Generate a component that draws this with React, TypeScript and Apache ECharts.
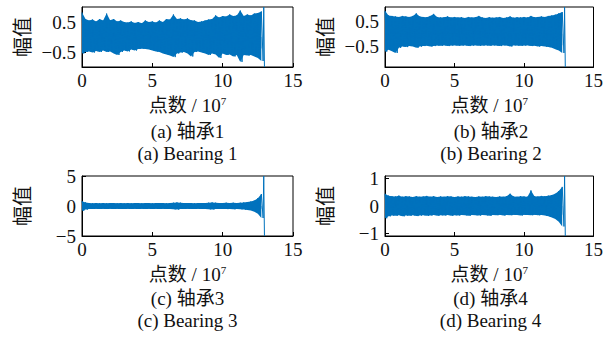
import React, { useEffect, useRef } from "react";
import * as echarts from "echarts";

// x axis: point count / 10^7
const X_MIN = 0;
const X_MAX = 15;
const X_INTERVAL = 5;
const SAMPLE_STEP = 0.25; // envelope samples read every 0.25 ×10^7 points
const END_X = [12.92, 12.97]; // where each record ends with its final burst

// Envelope (upper / lower amplitude per sample)
const TOP_A = [0.82, 0.6, 0.55, 0.58, 0.52, 0.6, 0.55, 0.78, 0.56, 0.6, 0.52, 0.55, 0.5, 0.48, 0.52, 0.47, 0.5, 0.46, 0.55, 0.5, 0.52, 0.48, 0.55, 0.5, 0.6, 0.58, 0.75, 0.6, 0.62, 0.58, 0.62, 0.56, 0.55, 0.5, 0.52, 0.55, 0.58, 0.6, 0.72, 0.65, 0.7, 0.68, 0.75, 0.7, 0.72, 0.88, 0.7, 0.75, 0.72, 0.78, 0.8, 0.85];
const BOT_A = [-0.55, -0.5, -0.48, -0.52, -0.47, -0.5, -0.45, -0.5, -0.48, -0.55, -0.6, -0.5, -0.45, -0.48, -0.42, -0.45, -0.4, -0.38, -0.4, -0.42, -0.45, -0.48, -0.5, -0.55, -0.58, -0.62, -0.67, -0.55, -0.52, -0.5, -0.55, -0.65, -0.5, -0.48, -0.52, -0.55, -0.6, -0.55, -0.58, -0.7, -0.55, -0.6, -0.58, -0.65, -0.6, -0.83, -0.6, -0.62, -0.6, -0.65, -0.7, -0.8];
const END_A = [1, -1];

const TOP_B = [0.9, 0.72, 0.7, 0.68, 0.66, 0.7, 0.68, 0.66, 0.7, 0.8, 0.68, 0.66, 0.65, 0.7, 0.78, 0.66, 0.64, 0.65, 0.68, 0.64, 0.66, 0.64, 0.65, 0.62, 0.66, 0.64, 0.65, 0.7, 0.64, 0.62, 0.65, 0.63, 0.64, 0.66, 0.62, 0.64, 0.68, 0.63, 0.65, 0.64, 0.66, 0.64, 0.7, 0.65, 0.66, 0.68, 0.66, 0.7, 0.72, 0.75, 0.8, 0.85];
const BOT_B = [-0.7, -0.62, -0.68, -0.75, -0.55, -0.5, -0.52, -0.48, -0.5, -0.55, -0.5, -0.48, -0.47, -0.5, -0.48, -0.46, -0.47, -0.45, -0.48, -0.46, -0.45, -0.47, -0.46, -0.45, -0.48, -0.46, -0.45, -0.47, -0.46, -0.45, -0.47, -0.45, -0.46, -0.48, -0.45, -0.46, -0.5, -0.45, -0.46, -0.47, -0.46, -0.45, -0.48, -0.47, -0.5, -0.48, -0.5, -0.52, -0.55, -0.6, -0.65, -0.75];
const END_B = [1.05, -1.3];

const TOP_C = [0.8, 0.6, 0.5, 0.45, 0.5, 0.45, 0.5, 0.45, 0.5, 0.48, 0.45, 0.5, 0.45, 0.5, 0.45, 0.48, 0.5, 0.45, 0.5, 0.48, 0.45, 0.5, 0.48, 0.5, 0.45, 0.5, 0.55, 0.6, 0.55, 0.5, 0.48, 0.5, 0.45, 0.5, 0.48, 0.5, 0.55, 0.6, 0.55, 0.5, 0.5, 0.55, 0.5, 0.55, 0.5, 0.55, 0.6, 0.65, 0.75, 0.9, 1.3, 2.0];
const BOT_C = [-0.8, -0.6, -0.5, -0.48, -0.45, -0.5, -0.45, -0.48, -0.45, -0.5, -0.45, -0.48, -0.5, -0.45, -0.48, -0.45, -0.5, -0.45, -0.48, -0.45, -0.5, -0.45, -0.48, -0.45, -0.5, -0.48, -0.55, -0.6, -0.5, -0.48, -0.45, -0.5, -0.48, -0.45, -0.5, -0.48, -0.55, -0.58, -0.5, -0.48, -0.5, -0.52, -0.5, -0.55, -0.5, -0.55, -0.6, -0.65, -0.75, -0.95, -1.3, -2.0];
const END_C = [5, -5];

const TOP_D = [0.45, 0.38, 0.36, 0.35, 0.38, 0.34, 0.36, 0.35, 0.33, 0.36, 0.34, 0.35, 0.37, 0.34, 0.36, 0.33, 0.35, 0.34, 0.36, 0.35, 0.33, 0.35, 0.34, 0.36, 0.35, 0.34, 0.33, 0.35, 0.34, 0.36, 0.35, 0.34, 0.33, 0.35, 0.34, 0.36, 0.45, 0.35, 0.34, 0.36, 0.35, 0.34, 0.57, 0.36, 0.35, 0.37, 0.36, 0.38, 0.4, 0.45, 0.55, 0.7];
const BOT_D = [-0.45, -0.38, -0.35, -0.36, -0.34, -0.38, -0.35, -0.36, -0.34, -0.37, -0.35, -0.34, -0.36, -0.35, -0.33, -0.36, -0.34, -0.35, -0.33, -0.36, -0.34, -0.35, -0.33, -0.34, -0.36, -0.33, -0.34, -0.35, -0.33, -0.34, -0.36, -0.33, -0.34, -0.32, -0.35, -0.33, -0.34, -0.32, -0.33, -0.35, -0.32, -0.33, -0.34, -0.32, -0.34, -0.33, -0.35, -0.38, -0.42, -0.48, -0.58, -0.75];
const END_D = [1.1, -1.1];

// y axes
const Y_RANGE_A = [-1, 1];
const Y_RANGE_B = [-1.3, 1.05];
const Y_RANGE_C = [-5, 5];
const Y_RANGE_D = [-1.1, 1.1];
const Y_TICKS_A = [-0.5, 0.5];
const Y_TICKS_B = [-0.5, 0.5];
const Y_TICKS_C = [-5, 0, 5];
const Y_TICKS_D = [-1, 0, 1];

const Y_NAME = "幅值";
const X_NAME = "点数 / 10{sup|7}";
const CAPTIONS_ZH = ["(a) 轴承1", "(b) 轴承2", "(c) 轴承3", "(d) 轴承4"];
const CAPTIONS_EN = ["(a) Bearing 1", "(b) Bearing 2", "(c) Bearing 3", "(d) Bearing 4"];

const FONT = "Liberation Serif, Times New Roman, Noto Sans CJK SC, serif";
const BLUE = "#0072BD";

function zigzag(top: number[], bot: number[], end: number[]) {
  const pts: number[][] = [];
  top.forEach((t, i) => {
    const x = i * SAMPLE_STEP;
    pts.push([x, t]);
    pts.push([x + SAMPLE_STEP / 2, bot[i]]);
  });
  pts.push([END_X[0], end[0]]);
  pts.push([END_X[1], end[1]]);
  return pts;
}

function envelope(vals: number[]) {
  return vals.map((v, i) => [i * SAMPLE_STEP, v]);
}

const fmt = (v: number) => (v < 0 ? "\u2212" + String(Math.abs(v)) : String(v));

export default function App() {
  const ref = useRef<HTMLDivElement>(null);
  useEffect(() => {
    if (!ref.current) return;
    const chart = echarts.init(ref.current, null, { renderer: "svg" });
    const panels = [
      { top: TOP_A, bot: BOT_A, end: END_A, range: Y_RANGE_A, ticks: Y_TICKS_A },
      { top: TOP_B, bot: BOT_B, end: END_B, range: Y_RANGE_B, ticks: Y_TICKS_B },
      { top: TOP_C, bot: BOT_C, end: END_C, range: Y_RANGE_C, ticks: Y_TICKS_C },
      { top: TOP_D, bot: BOT_D, end: END_D, range: Y_RANGE_D, ticks: Y_TICKS_D },
    ];
    const grids = [
      { left: 82, top: 7, width: 211, height: 60 },
      { left: 385, top: 7, width: 212, height: 60 },
      { left: 82, top: 176, width: 211, height: 60 },
      { left: 385, top: 176, width: 211, height: 60 },
    ];
    const textBase = { fontFamily: FONT, fontSize: 19, color: "#111" };
    const fillSeries = (data: number[][], i: number, origin: number) => ({
      type: "line",
      xAxisIndex: i,
      yAxisIndex: i,
      data,
      symbol: "none",
      clip: true,
      lineStyle: { width: 0, color: BLUE },
      areaStyle: { color: BLUE, opacity: 1, origin },
      silent: true,
    });
    const option: any = {
      animation: false,
      backgroundColor: "#fff",
      textStyle: { fontFamily: FONT },
      grid: grids.map((g) => ({ ...g, show: true, borderColor: "#000", borderWidth: 1, backgroundColor: "transparent" })),
      xAxis: grids.map((_, i) => ({
        type: "value",
        gridIndex: i,
        min: X_MIN,
        max: X_MAX,
        interval: X_INTERVAL,
        splitLine: { show: false },
        axisLine: { show: true, onZero: false, lineStyle: { color: "#000", width: 1 } },
        axisTick: { show: true, inside: true, length: 4, lineStyle: { color: "#000" } },
        axisLabel: { ...textBase, margin: 4, formatter: fmt },
        name: X_NAME,
        nameLocation: "middle",
        nameGap: 28,
        nameTextStyle: {
          ...textBase,
          rich: { sup: { fontFamily: FONT, fontSize: 11, color: "#111", verticalAlign: "top", padding: [0, 0, 10, 0] } },
        },
      })),
      yAxis: panels.map((p, i) => ({
        type: "value",
        gridIndex: i,
        min: p.range[0],
        max: p.range[1],
        splitLine: { show: false },
        axisLine: { show: true, onZero: false, lineStyle: { color: "#000", width: 1 } },
        axisTick: { show: true, inside: true, length: 4, lineStyle: { color: "#000" }, customValues: p.ticks },
        axisLabel: { ...textBase, margin: 6, formatter: fmt, customValues: p.ticks },
        name: Y_NAME,
        nameLocation: "middle",
        nameRotate: 90,
        nameGap: 49,
        nameTextStyle: { ...textBase, fontSize: 20 },
      })),
      series: panels.flatMap((p, i) => [
        // upper half of the band, filled down past zero so the two halves overlap
        fillSeries(envelope(p.top), i, Math.max(...p.bot)),
        fillSeries(envelope(p.bot), i, 0),
        {
          type: "line",
          xAxisIndex: i,
          yAxisIndex: i,
          data: zigzag(p.top, p.bot, p.end),
          symbol: "none",
          clip: true,
          lineStyle: { color: BLUE, width: 1 },
          silent: true,
        },
      ]),
      graphic: grids.flatMap((g, i) => {
        const cx = g.left + g.width / 2;
        const base = i < 2 ? 0 : 167;
        return [
          {
            type: "text",
            x: cx,
            y: base + 131,
            style: { text: CAPTIONS_ZH[i], fill: "#111", font: `19px ${FONT}`, textAlign: "center", textVerticalAlign: "middle" },
          },
          {
            type: "text",
            x: cx,
            y: base + 153,
            style: { text: CAPTIONS_EN[i], fill: "#111", font: `19px ${FONT}`, textAlign: "center", textVerticalAlign: "middle" },
          },
        ];
      }),
    };
    chart.setOption(option);
    return () => chart.dispose();
  }, []);
  return (
    <div
      ref={ref}
      style={{ position: "fixed", left: 0, top: 0, width: 606, height: 340, background: "#fff" }}
    />
  );
}
